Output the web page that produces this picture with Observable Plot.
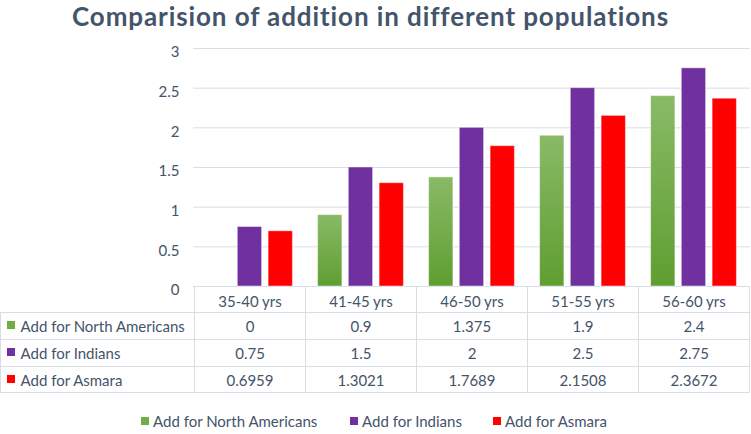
<!DOCTYPE html>
<html>
<head>
<meta charset="utf-8">
<script src="https://cdn.jsdelivr.net/npm/d3@7"></script>
<script src="https://cdn.jsdelivr.net/npm/@observablehq/plot@0.6"></script>
<style>
  html, body { margin: 0; padding: 0; background: #fff; }
  body { width: 751px; height: 434px; overflow: hidden; font-family: Lato, "Open Sans", sans-serif; color: #44546a; }
  #title { height: 46px; line-height: 32px; padding-bottom: 14px; text-align: center; font-weight: bold; font-size: 26px; letter-spacing: 0.9px; padding-right: 10px; box-sizing: border-box; color: #44546a; white-space: nowrap; }
  #legend { position: relative; height: 34px; font-size: 15px; }
  .item { position: absolute; top: 17px; height: 16px; white-space: nowrap; }
  .sw { position: absolute; left: 0; top: 0; width: 8px; height: 8px; }
  .tx { position: absolute; left: 12px; top: -5px; line-height: 18px; }
  svg { display: block; }
</style>
</head>
<body>
<div id="title">Comparision of addition in different populations</div>
<div id="chart"></div>
<div id="legend"></div>
<script>
const categories = ["35-40 yrs", "41-45 yrs", "46-50 yrs", "51-55 yrs", "56-60 yrs"];
const seriesNames = ["Add for North Americans", "Add for Indians", "Add for Asmara"];
const northAmericans = [0, 0.9, 1.375, 1.9, 2.4];
const indians = [0.75, 1.5, 2, 2.5, 2.75];
const asmara = [0.6959, 1.3021, 1.7689, 2.1508, 2.3672];
const yTicks = [0, 0.5, 1, 1.5, 2, 2.5, 3];

const seriesValues = [northAmericans, indians, asmara];
const fills = ["url(#gradGreen)", "#7030a0", "#ff0000"];
const swatchColors = ["#70ad47", "#7030a0", "#ff0000"];
const insets = [[12.6, 74.1], [43.3, 43.4], [74.1, 12.6]];
const rowDy = [41, 68, 95];

const rows = seriesValues.map((vals, s) =>
  categories.map((c, i) => ({series: seriesNames[s], category: c, value: vals[i]}))
);

const textColor = "#44546a";
const gridColor = "#d9dde6";

function tableMark(index, scales, values, dims) {
  const g = d3.create("svg:g");
  const defs = g.append("defs");
  const lg = defs.append("linearGradient").attr("id", "gradGreen").attr("x1", 0).attr("y1", 0).attr("x2", 0).attr("y2", 1);
  lg.append("stop").attr("offset", "0%").attr("stop-color", "#89ba66");
  lg.append("stop").attr("offset", "100%").attr("stop-color", "#5f9e31");
  const y0 = scales.y(0);
  const step = scales.x.bandwidth ? scales.x.bandwidth() : 111.4;
  const left = dims.marginLeft;
  const right = dims.width - dims.marginRight;
  const hl = [y0 + 26, y0 + 53, y0 + 80, y0 + 106];
  g.append("line").attr("x1", left).attr("x2", right).attr("y1", y0 + 0.5).attr("y2", y0 + 0.5).attr("stroke", gridColor);
  for (const y of hl) {
    g.append("line").attr("x1", 0).attr("x2", right).attr("y1", Math.round(y) + 0.5).attr("y2", Math.round(y) + 0.5).attr("stroke", gridColor);
  }
  const xs = categories.map(c => scales.x(c)).concat([scales.x(categories[categories.length - 1]) + step]);
  for (const x of xs) {
    g.append("line").attr("x1", Math.round(x) + 0.5).attr("x2", Math.round(x) + 0.5).attr("y1", y0).attr("y2", Math.round(hl[3]) + 0.5).attr("stroke", gridColor);
  }
  g.append("line").attr("x1", 0.5).attr("x2", 0.5).attr("y1", Math.round(hl[0]) + 0.5).attr("y2", Math.round(hl[3]) + 0.5).attr("stroke", gridColor);
  seriesNames.forEach((s, i) => {
    g.append("rect").attr("x", 7).attr("width", 8).attr("height", 8)
      .attr("y", y0 + rowDy[i] - 6).attr("fill", swatchColors[i]);
  });
  return g.node();
}

const marks = [
  Plot.ruleY(yTicks.filter(d => d > 0), {stroke: gridColor, strokeWidth: 1}),
  tableMark
];
rows.forEach((data, s) => {
  marks.push(Plot.barY(data, {
    x: "category", y: "value", fill: fills[s],
    insetLeft: insets[s][0], insetRight: insets[s][1],
    stroke: "#ffffff", strokeOpacity: 0.45, strokeWidth: 1
  }));
});
marks.push(Plot.text(yTicks, {
  x: null, y: d => d, text: d => String(d), frameAnchor: "left", dx: -14, dy: 4,
  textAnchor: "end", fill: textColor, fontSize: 15
}));
marks.push(Plot.text(categories, {
  x: d => d, y: () => 0, text: d => d, dy: 16, fill: textColor, fontSize: 15
}));
rows.forEach((data, s) => {
  marks.push(Plot.text(data, {
    x: "category", y: () => 0, text: d => String(d.value), dy: rowDy[s], fill: textColor, fontSize: 15
  }));
  marks.push(Plot.text([seriesNames[s]], {
    y: () => 0, text: d => d, frameAnchor: "left", dx: -173, dy: rowDy[s],
    textAnchor: "start", fill: textColor, fontSize: 15
  }));
});

const chart = Plot.plot({
  width: 751,
  height: 354,
  marginLeft: 193,
  marginRight: 1,
  marginTop: 2,
  marginBottom: 114,
  style: {fontFamily: "Lato, 'Open Sans', sans-serif", background: "#fff", overflow: "visible"},
  x: {type: "band", domain: categories, padding: 0, axis: null},
  y: {domain: [0, 3], axis: null},
  marks
});
document.getElementById("chart").appendChild(chart);

const legendPos = [141, 350, 493];
const legend = document.getElementById("legend");
seriesNames.forEach((s, i) => {
  const it = document.createElement("div");
  it.className = "item";
  it.style.left = legendPos[i] + "px";
  const sw = document.createElement("span");
  sw.className = "sw";
  sw.style.background = swatchColors[i];
  const tx = document.createElement("span");
  tx.className = "tx";
  tx.textContent = s;
  it.appendChild(sw); it.appendChild(tx);
  legend.appendChild(it);
});
</script>
</body>
</html>
